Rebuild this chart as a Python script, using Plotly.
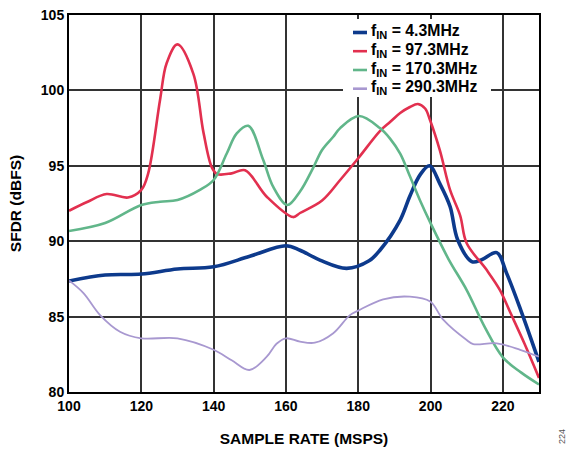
import plotly.graph_objects as go

# ---- data ----
blue_x = [100, 110, 120, 130, 140, 150, 160, 163.9, 169.4, 176.8, 183, 186, 191.6, 194.3, 197.1, 199.7, 202.6, 205.4, 207.5, 211.4, 214, 218.3, 221, 225, 230]
blue_y = [87.36, 87.76, 87.82, 88.16, 88.3, 89.0, 89.7, 89.4, 88.75, 88.2, 88.7, 89.4, 91.4, 93.0, 94.4, 95.0, 93.8, 92.3, 90.1, 88.65, 88.75, 89.24, 87.9, 85.4, 82.0]

red_x = [100, 105, 110.4, 116.3, 120, 121.9, 125.2, 127, 130, 134.4, 137.2, 139.5, 141, 145, 148.7, 154.7, 162, 163.9, 170, 175, 180, 186, 188.8, 191.6, 194.3, 196.5, 198.5, 199.9, 202.6, 205.4, 208.2, 210, 215.5, 219.2, 222, 226, 230]
red_y = [92.02, 92.6, 93.13, 92.9, 93.4, 94.5, 99.4, 101.8, 103.05, 101.1, 97.2, 94.9, 94.45, 94.5, 94.7, 92.95, 91.6, 91.87, 92.7, 94.06, 95.5, 97.3, 97.9, 98.5, 98.9, 99.1, 98.8, 98.0, 96.0, 93.4, 91.7, 89.86, 88.1, 86.76, 85.3, 83.2, 80.93]

green_x = [100, 110, 120, 125.2, 130, 136.2, 140, 143.6, 146.4, 149.6, 153.7, 156.5, 160.4, 163.9, 167.6, 170, 173.1, 175, 180.2, 186, 188.8, 191.6, 194.3, 197.1, 200, 205, 210, 215, 220, 225, 230]
green_y = [90.68, 91.2, 92.4, 92.62, 92.73, 93.4, 94.06, 95.8, 97.15, 97.65, 95.4, 93.6, 92.4, 93.3, 94.9, 96.05, 96.93, 97.5, 98.3, 97.5, 96.8, 95.8, 94.3, 92.7, 91.2, 88.8, 86.76, 84.3, 82.3, 81.3, 80.5]

purple_x = [100, 104, 108.6, 114.1, 120, 130, 140, 145, 149.9, 154.7, 157.4, 160, 163.9, 168, 173.1, 177.7, 180, 186.9, 194.3, 199.9, 203.5, 210, 211.8, 218.3, 224.8, 230]
purple_y = [87.4, 86.56, 85.1, 84.0, 83.56, 83.56, 82.8, 82.1, 81.46, 82.34, 83.2, 83.56, 83.34, 83.27, 83.9, 85.1, 85.4, 86.15, 86.32, 86.0, 84.8, 83.45, 83.18, 83.23, 82.8, 82.34]

series_names = ["f<sub>IN</sub> = 4.3MHz", "f<sub>IN</sub> = 97.3MHz",
                "f<sub>IN</sub> = 170.3MHz", "f<sub>IN</sub> = 290.3MHz"]
x_ticks = [100, 120, 140, 160, 180, 200, 220]
y_ticks = [80, 85, 90, 95, 100, 105]

colors = ["#0d3a8c", "#e2304f", "#61b68a", "#a898d0"]
widths = [3.6, 2.6, 2.6, 1.8]

FONT = "Liberation Sans, Arial, sans-serif"

# plot area in pixels (for placing the hand-drawn legend)
L, R, T, B = 69, 539, 15, 392
def px_x(p):
    return (p - L) / (R - L)
def px_y(p):
    return (B - p) / (B - T)

fig = go.Figure()
for xs, ys, name, c, w in zip([blue_x, red_x, green_x, purple_x],
                              [blue_y, red_y, green_y, purple_y],
                              series_names, colors, widths):
    fig.add_trace(go.Scatter(x=xs, y=ys, mode="lines", name=name, showlegend=False,
                             line=dict(color=c, width=w, shape="spline", smoothing=1.0)))

axis_common = dict(showline=True, linecolor="black", linewidth=2, mirror=True,
                   showgrid=True, gridcolor="#333333", gridwidth=1.6,
                   zeroline=False, ticks="",
                   tickfont=dict(family=FONT, size=14, color="black", weight="bold"))

fig.update_xaxes(range=[100, 230], tickvals=x_ticks,
                 title=dict(text="SAMPLE RATE (MSPS)", standoff=20,
                            font=dict(family=FONT, size=15.5, color="black", weight="bold")),
                 **axis_common)
fig.update_yaxes(range=[80, 105], tickvals=y_ticks,
                 title=dict(text="SFDR (dBFS)", standoff=15,
                            font=dict(family=FONT, size=15.5, color="black", weight="bold")),
                 **axis_common)

# hand-drawn legend
shapes = [dict(type="rect", xref="paper", yref="paper", layer="above",
               x0=px_x(343), x1=px_x(491), y0=px_y(97), y1=px_y(19),
               fillcolor="white", line=dict(width=0))]
annotations = []
row_y = [32.5, 51.2, 70.0, 88.7]
for name, c, w, ry in zip(series_names, colors, widths, row_y):
    shapes.append(dict(type="line", xref="paper", yref="paper", layer="above",
                       x0=px_x(353), x1=px_x(367), y0=px_y(ry), y1=px_y(ry),
                       line=dict(color=c, width=max(w, 2.6))))
    annotations.append(dict(text=name, xref="paper", yref="paper",
                            x=px_x(369), y=px_y(ry - 1), xanchor="left", yanchor="middle",
                            showarrow=False,
                            font=dict(family=FONT, size=15.8, color="black", weight="bold")))

annotations.append(dict(text="224", xref="paper", yref="paper", x=px_x(562), y=px_y(437),
                        xanchor="center", yanchor="middle", showarrow=False, textangle=-90,
                        font=dict(family=FONT, size=9, color="#555555")))

fig.update_layout(
    width=566, height=449,
    margin=dict(l=L, r=566 - R, t=T, b=449 - B, autoexpand=False),
    paper_bgcolor="white", plot_bgcolor="white",
    showlegend=False,
    shapes=shapes,
    annotations=annotations,
)

fig.write_html("out.html", config={"displayModeBar": False},
               post_script="document.body.style.margin='0px';document.body.style.overflow='hidden';")
